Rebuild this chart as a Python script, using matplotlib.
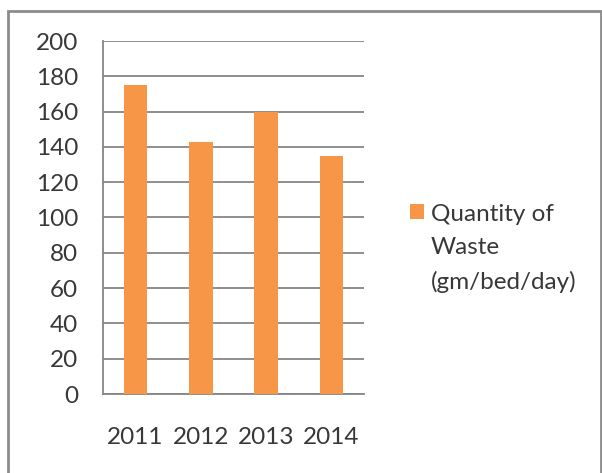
# imports
import numpy as np
import matplotlib.pyplot as plt
from matplotlib.patches import Rectangle

# data
years = ['2011', '2012', '2013', '2014']
waste = [175, 143, 160, 135]
series_label = 'Quantity of\nWaste\n(gm/bed/day)'
y_ticks = [0, 20, 40, 60, 80, 100, 120, 140, 160, 180, 200]

# colours
orange = '#F79646'
grey = '#868686'

plt.rcParams['font.family'] = ['Lato', 'DejaVu Sans']

fig = plt.figure(figsize=(6.02, 4.73), dpi=100)
ax = fig.add_axes([103/602, 79/473, 261/602, 353/473])

# bars
x = np.arange(len(years))
ax.bar(x, waste, width=0.36, color=orange, zorder=3, label=series_label)

# axes
ax.set_xlim(-0.5, len(years) - 0.5)
ax.set_ylim(0, 200)
ax.set_yticks(y_ticks)
ax.set_xticks(x)
ax.set_xticklabels(years)
ax.yaxis.grid(True, color=grey, linewidth=1.3, zorder=0)
ax.tick_params(axis='y', length=0, pad=18, labelsize=17.5, labelcolor='#383838')
ax.tick_params(axis='x', length=0, pad=24, labelsize=17.5, labelcolor='#383838')
for s in ['top', 'right']:
    ax.spines[s].set_visible(False)
for s in ['left', 'bottom']:
    ax.spines[s].set_color(grey)
    ax.spines[s].set_linewidth(1.3)

# legend on the right, square aligned with the first line
leg = fig.legend(loc='upper left', bbox_to_anchor=(398/602, 1 - 192/473),
                 frameon=False, fontsize=17.5, borderpad=0,
                 handlelength=0.55, handleheight=0.55, handletextpad=0.3)
for t in leg.get_texts():
    t.set_color('#383838')
    t.set_linespacing(1.7)
for col in leg._legend_handle_box.get_children():
    for row in col.get_children():
        row.align = 'top'

# grey frame around the chart
fig.patches.append(Rectangle((8/602, -0.05), 593/602, (462/473) + 0.05,
                             transform=fig.transFigure, fill=False,
                             edgecolor='#8c8c8c', linewidth=2))

plt.savefig('out.png', dpi=100)
